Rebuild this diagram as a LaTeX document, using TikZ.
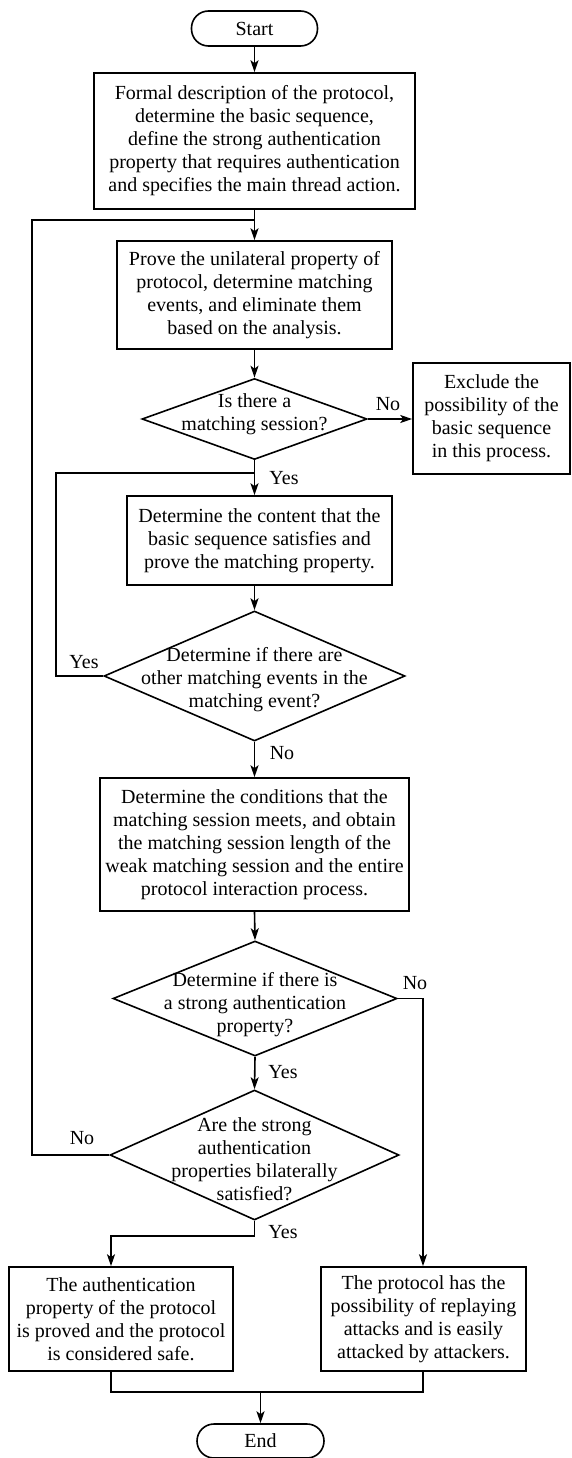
\documentclass[tikz,border=0pt]{standalone}
\usepackage{fontspec}
\setmainfont{Liberation Serif}
\usetikzlibrary{shapes.geometric,arrows.meta,calc}
\begin{document}
\begin{tikzpicture}[x=1pt,y=-1pt,
  font=\fontsize{20}{23}\selectfont,
  base/.style={draw=black, line width=1.6pt, inner sep=0pt, align=center},
  proc/.style={base, rectangle},
  term/.style={base, rectangle, rounded corners=17pt},
  dia/.style={base, diamond},
  txt/.style={inner sep=0pt, align=center},
  lbl/.style={inner sep=0pt},
  arr/.style={line width=1.6pt, -{Stealth[length=12pt,width=8pt,inset=3pt]}},
  ln/.style={line width=1.6pt}]
\useasboundingbox (0,0) rectangle (571,1458);

\node[term, minimum width=126pt, minimum height=35pt] (start) at (254.5,28.5) {Start};
\node[proc, minimum width=321pt, minimum height=136pt] (b1) at (254.5,141) {Formal description of the protocol,\\ determine the basic sequence,\\ define the strong authentication\\ property that requires authentication\\ and specifies the main thread action.};
\node[proc, minimum width=275pt, minimum height=108pt] (b2) at (254.5,295) {Prove the unilateral property of\\ protocol, determine matching\\ events, and eliminate them\\ based on the analysis.};
\node[dia, minimum width=225pt, minimum height=81pt] (d1) at (254.5,419) {};
\node[txt] (d1t) at (254.5,414) {Is there a\\ matching session?};
\node[proc, minimum width=157pt, minimum height=111pt] (ex) at (491.5,418.5) {Exclude the\\ possibility of the\\ basic sequence\\ in this process.};
\node[proc, minimum width=265pt, minimum height=89pt] (b3) at (259.5,540.5) {Determine the content that the\\ basic sequence satisfies and\\ prove the matching property.};
\node[dia, minimum width=301pt, minimum height=130pt] (d2) at (254.5,676) {};
\node[txt] (d2t) at (254.5,680) {Determine if there are\\ other matching events in the\\ matching event?};
\node[proc, minimum width=309pt, minimum height=133pt] (b4) at (254.5,844.5) {Determine the conditions that the\\ matching session meets, and obtain\\ the matching session length of the\\ weak matching session and the entire\\ protocol interaction process.};
\node[dia, minimum width=284pt, minimum height=115pt] (d3) at (255,998.5) {};
\node[txt] (d3t) at (255,1005) {Determine if there is\\ a strong authentication\\ property?};
\node[dia, minimum width=289pt, minimum height=130pt] (d4) at (254.5,1155) {};
\node[txt] (d4t) at (254.5,1159) {Are the strong\\ authentication\\ properties bilaterally\\ satisfied?};
\node[proc, minimum width=224pt, minimum height=104pt] (b5) at (121,1319) {The authentication\\ property of the protocol\\ is proved and the protocol\\ is considered safe.};
\node[proc, minimum width=205pt, minimum height=104pt] (b6) at (423.5,1319) {The protocol has the\\ possibility of replaying\\ attacks and is easily\\ attacked by attackers.};
\node[term, minimum width=127pt, minimum height=34pt] (end) at (260.5,1441) {End};

\coordinate (lx) at (32,220);
\coordinate (ly) at (56,473);
\coordinate (k5) at (111,1236);
\coordinate (m5) at (111,1392);
\coordinate (r3) at (423,998.5);

\draw[arr] (start.south) -- (start.south |- b1.north);
\draw[arr] (b1.south) -- (b2.north);
\draw[ln] (d4.west) -| (lx) -- (lx -| b1.south);
\draw[arr] (b2.south) -- (d1.north);
\draw[arr] (d1.east) -- (ex.west |- d1.east);
\draw[arr] (d1.south) -- (d1.south |- b3.north);
\draw[ln] (d2.west) -| (ly) -- (ly -| d1.south);
\draw[arr] (d2.north |- b3.south) -- (d2.north);
\draw[arr] (d2.south) -- (b4.north);
\draw[arr] (b4.south) -- (d3.north);
\draw[arr] (d3.east) -- (r3) -- (r3 |- b6.north);
\draw[arr] (d3.south) -- (d4.north);
\draw[arr] (d4.south) |- (k5) -- (k5 |- b5.north);
\draw[ln] (m5 |- b5.south) -- (m5) -- (m5 -| r3) -- (r3 |- b6.south);
\draw[arr] (m5 -| end.north) -- (end.north);

\node[lbl] (l1) at (388,404) {No};
\node[lbl] (l2) at (284,478) {Yes};
\node[lbl] (l3) at (84,662) {Yes};
\node[lbl] (l4) at (282,753) {No};
\node[lbl] (l5) at (415,983) {No};
\node[lbl] (l6) at (283,1072) {Yes};
\node[lbl] (l7) at (82,1138) {No};
\node[lbl] (l8) at (283,1232) {Yes};
\end{tikzpicture}
\end{document}
